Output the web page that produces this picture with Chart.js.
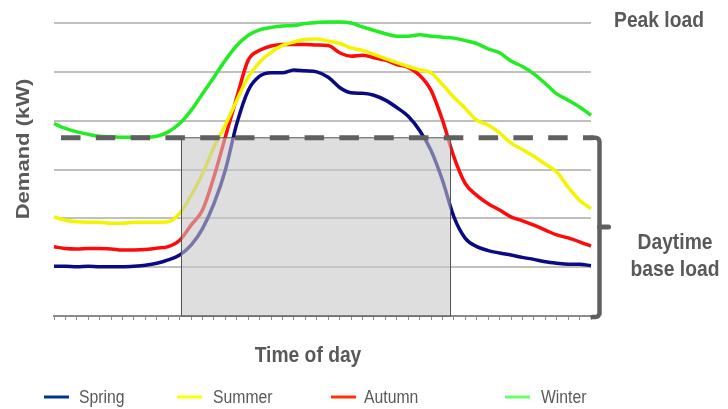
<!DOCTYPE html>
<html>
<head>
<meta charset="utf-8">
<script src="https://cdn.jsdelivr.net/npm/chart.js@4.4.1/dist/chart.umd.min.js"></script>
<style>
  html, body { margin: 0; padding: 0; background: #ffffff; }
  #wrap { width: 728px; height: 409px; }
</style>
</head>
<body>
<div id="wrap"><canvas id="c" width="728" height="409"></canvas></div>
<script>
// Half-hourly time slots over one day
const timeSlots = [
  "00:00","00:30","01:00","01:30","02:00","02:30","03:00","03:30",
  "04:00","04:30","05:00","05:30","06:00","06:30","07:00","07:30",
  "08:00","08:30","09:00","09:30","10:00","10:30","11:00","11:30",
  "12:00","12:30","13:00","13:30","14:00","14:30","15:00","15:30",
  "16:00","16:30","17:00","17:30","18:00","18:30","19:00","19:30",
  "20:00","20:30","21:00","21:30","22:00","22:30","23:00","23:30"
];

// Demand profiles (kW) per season
const spring = [
  1.02,1.02,1.01,1.02,1.01,1.01,1.01,1.02,1.04,1.08,1.15,1.25,
  1.45,1.79,2.30,2.99,3.94,4.62,4.91,4.98,4.98,5.04,5.02,5.00,
  4.89,4.68,4.57,4.56,4.52,4.42,4.27,4.09,3.80,3.39,2.78,2.03,
  1.59,1.42,1.34,1.29,1.25,1.20,1.16,1.11,1.08,1.06,1.06,1.03
];
const summer = [
  2.03,1.96,1.93,1.92,1.92,1.90,1.90,1.92,1.92,1.92,1.93,2.10,
  2.47,2.92,3.46,3.91,4.42,4.89,5.20,5.40,5.54,5.61,5.66,5.67,
  5.63,5.58,5.49,5.44,5.36,5.27,5.19,5.11,5.04,4.98,4.74,4.48,
  4.25,4.01,3.91,3.75,3.54,3.41,3.27,3.11,2.95,2.64,2.37,2.20
];
const autumn = [
  1.42,1.38,1.37,1.38,1.38,1.37,1.35,1.35,1.36,1.39,1.42,1.55,
  1.86,2.17,2.85,3.67,4.48,5.24,5.44,5.53,5.56,5.56,5.56,5.55,
  5.54,5.39,5.32,5.34,5.29,5.24,5.15,5.09,4.93,4.62,4.01,3.26,
  2.71,2.47,2.30,2.17,2.03,1.95,1.86,1.76,1.66,1.60,1.52,1.43
];
const winter = [
  3.94,3.84,3.77,3.72,3.68,3.67,3.66,3.66,3.66,3.68,3.77,3.94,
  4.21,4.55,4.89,5.24,5.54,5.75,5.86,5.91,5.94,5.95,5.99,6.01,
  6.02,6.02,6.00,5.92,5.85,5.78,5.73,5.73,5.76,5.73,5.71,5.69,
  5.64,5.58,5.47,5.39,5.22,5.11,4.96,4.76,4.55,4.42,4.28,4.11
];

// Daytime window (slot index) and daytime base load level (kW)
const daytimeStart = 11.1;
const daytimeEnd = 34.65;
const daytimeBaseLoad = 3.65;

const seriesNames = ["Spring", "Summer", "Autumn", "Winter"];
const lineColors = ["#0a0a85", "#f4f400", "#ff0a0a", "#22ec22"];
const legendColors = ["#003399", "#ffff00", "#ff3300", "#66ff66"];

const TEXT = "#595959";
const FONT = "'Liberation Sans', Arial, sans-serif";
const SQUEEZE = 0.875;

function squeezedText(ctx, str, x, y, font, align) {
  ctx.save();
  ctx.font = font;
  ctx.fillStyle = TEXT;
  ctx.textAlign = align || "center";
  ctx.textBaseline = "alphabetic";
  ctx.translate(x, y);
  ctx.scale(SQUEEZE, 1);
  ctx.fillText(str, 0, 0);
  ctx.restore();
}

const decor = {
  id: "decor",
  afterDatasetsDraw(chart) {
    const ctx = chart.ctx;
    const xs = chart.scales.x, ys = chart.scales.y, ca = chart.chartArea;
    const xl = xs.getPixelForValue(daytimeStart);
    const xr = xs.getPixelForValue(daytimeEnd);
    const yt = ys.getPixelForValue(daytimeBaseLoad);
    const yb = ys.getPixelForValue(0);

    // shaded daytime block laid over the curves
    ctx.save();
    ctx.fillStyle = "rgba(198,198,198,0.58)";
    ctx.fillRect(xl, yt, xr - xl, yb - yt);
    ctx.strokeStyle = "#555555";
    ctx.lineWidth = 1;
    ctx.strokeRect(Math.round(xl) + 0.5, yt, Math.round(xr - xl), yb - yt);
    ctx.restore();

    // dashed base-load line and bracket
    const bx = ca.right + 8.5;
    ctx.save();
    ctx.strokeStyle = "#606060";
    ctx.lineWidth = 5;
    ctx.setLineDash([19.5, 15.3]);
    ctx.beginPath();
    ctx.moveTo(ca.left + 7, yt);
    ctx.lineTo(bx - 6, yt);
    ctx.stroke();
    ctx.setLineDash([]);
    ctx.lineWidth = 4.5;
    ctx.lineJoin = "round";
    ctx.lineCap = "round";
    ctx.beginPath();
    ctx.moveTo(bx - 8, yt);
    ctx.arcTo(bx, yt, bx, yt + 8, 4);
    ctx.lineTo(bx, yb - 2);
    ctx.arcTo(bx, yb + 1, bx - 8, yb + 1, 4);
    ctx.lineTo(bx - 7, yb + 1);
    ctx.stroke();
    const ym = (yt + yb) / 2;
    ctx.beginPath();
    ctx.moveTo(bx, ym);
    ctx.lineTo(bx + 9, ym);
    ctx.lineWidth = 5;
    ctx.stroke();
    ctx.restore();
  },
  afterDraw(chart) {
    const ctx = chart.ctx;
    const bold = "bold 22px " + FONT;

    squeezedText(ctx, "Peak load", 659, 27, bold);
    squeezedText(ctx, "Daytime", 675, 249, bold);
    squeezedText(ctx, "base load", 675, 276, bold);
    squeezedText(ctx, "Time of day", 308, 362, bold);

    // vertical axis title
    ctx.save();
    ctx.font = bold;
    ctx.fillStyle = TEXT;
    ctx.textAlign = "center";
    ctx.textBaseline = "middle";
    ctx.translate(23, 149);
    ctx.scale(SQUEEZE, 1);
    ctx.rotate(-Math.PI / 2);
    ctx.fillText("Demand (kW)", 0, 1);
    ctx.restore();

    // legend
    const lineX = [44, 177, 331, 505];
    const textX = [79, 213, 364, 541];
    seriesNames.forEach((name, i) => {
      ctx.save();
      ctx.strokeStyle = legendColors[i];
      ctx.lineWidth = 3;
      ctx.beginPath();
      ctx.moveTo(lineX[i], 397);
      ctx.lineTo(lineX[i] + 25, 397);
      ctx.stroke();
      ctx.restore();
      squeezedText(ctx, name, textX[i], 403, "18px " + FONT, "left");
    });
  }
};

const seriesData = [spring, summer, autumn, winter];
const drawOrder = [1, 0, 2, 3];

new Chart(document.getElementById("c"), {
  type: "line",
  data: {
    labels: timeSlots,
    datasets: seriesNames.map((name, i) => ({
      label: name,
      data: seriesData[i],
      borderColor: lineColors[i],
      backgroundColor: lineColors[i],
      borderWidth: 3.5,
      pointRadius: 0,
      cubicInterpolationMode: "monotone",
      fill: false,
      clip: 4,
      order: drawOrder[i]
    }))
  },
  options: {
    responsive: false,
    animation: false,
    devicePixelRatio: 1,
    layout: { padding: { left: 54, right: 137, top: 23, bottom: 87 } },
    plugins: {
      legend: { display: false },
      tooltip: { enabled: false },
      title: { display: false }
    },
    scales: {
      x: {
        type: "category",
        offset: false,
        grid: {
          drawOnChartArea: false,
          drawTicks: true,
          tickLength: 4,
          color: "#8a8a8a",
          lineWidth: 1
        },
        border: { display: true, color: "#8a8a8a", width: 2 },
        ticks: { display: false },
        afterFit(s) { s.height = 6; }
      },
      y: {
        min: 0,
        max: 6,
        ticks: { display: false, stepSize: 1 },
        grid: {
          drawTicks: false,
          lineWidth: 2,
          color: (c) => (c.tick && c.tick.value === 0 ? "rgba(0,0,0,0)" : "#c0c0c0")
        },
        border: { display: false },
        afterFit(s) { s.width = 0; }
      }
    }
  },
  plugins: [decor]
});
</script>
</body>
</html>
